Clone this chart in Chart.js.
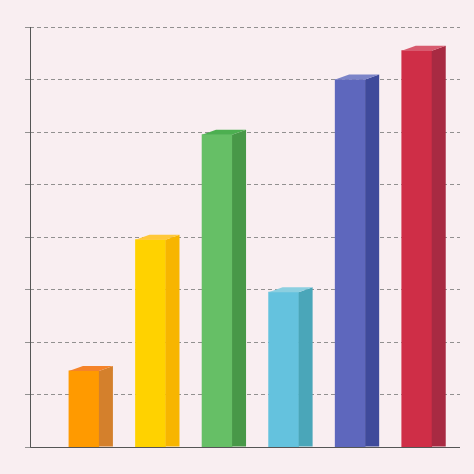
<!DOCTYPE html>
<html><head><meta charset="utf-8">
<script src="https://cdn.jsdelivr.net/npm/chart.js@4"></script>
<style>html,body{margin:0;background:#f9eef1}#wrap{width:474px;height:474px}</style>
</head><body><div id="wrap"><canvas id="c"></canvas></div>
<script>
const positions = [0, 1, 2, 3, 4, 5];
const values = [1.45, 3.95, 5.95, 2.95, 7.0, 7.55];
const frontColors = ["#ff9a00", "#ffd200", "#66bf66", "#64c2de", "#5e67bd", "#cf2e47"];
const sideColors = ["#d4802c", "#f7b500", "#489848", "#4aa6b9", "#3f4a9b", "#a82a42"];
const topColors = ["#f5832a", "#ffc83a", "#4caf50", "#8ccfe0", "#7c84c8", "#d85a6e"];

const depth = {
  id: "depth",
  afterDatasetsDraw(chart) {
    const ctx = chart.ctx;
    const dx = 14, dy = 5;
    chart.getDatasetMeta(0).data.forEach((bar, i) => {
      const w = bar.width, l = bar.x - w / 2, r = bar.x + w / 2, t = bar.y, b = bar.base;
      ctx.fillStyle = sideColors[i];
      ctx.beginPath();
      ctx.moveTo(r, t); ctx.lineTo(r + dx, t - dy); ctx.lineTo(r + dx, b); ctx.lineTo(r, b);
      ctx.closePath(); ctx.fill();
      ctx.fillStyle = topColors[i];
      ctx.beginPath();
      ctx.moveTo(l, t); ctx.lineTo(l + dx, t - dy); ctx.lineTo(r + dx, t - dy); ctx.lineTo(r, t);
      ctx.closePath(); ctx.fill();
    });
  }
};

// solid axis lines drawn over the dashed grid
const axes = {
  id: "axes",
  afterDraw(chart) {
    const { ctx, chartArea: a } = chart;
    ctx.strokeStyle = "#555"; ctx.lineWidth = 1;
    ctx.beginPath();
    ctx.moveTo(a.left + 0.5, a.top); ctx.lineTo(a.left + 0.5, a.bottom + 0.5);
    ctx.lineTo(a.right, a.bottom + 0.5);
    ctx.stroke();
  }
};

new Chart(document.getElementById("c"), {
  type: "bar",
  data: {
    datasets: [{
      data: positions.map((p, i) => ({ x: p, y: values[i] })),
      backgroundColor: frontColors,
      barThickness: 30
    }]
  },
  options: {
    responsive: true,
    maintainAspectRatio: false,
    animation: false,
    plugins: { legend: { display: false }, tooltip: { enabled: false } },
    layout: { padding: { left: 25, right: 14, top: 27, bottom: 27 } },
    scales: {
      x: { type: "linear", offset: false, min: -0.81, max: 5.65, display: false },
      y: {
        min: 0, max: 8,
        ticks: { display: false, stepSize: 1 },
        border: { display: false, dash: [4, 3] },
        grid: { color: "#777", lineWidth: 0.8, tickLength: 5, drawTicks: true, tickBorderDash: [] },
        afterFit(s) { s.width = 5; }
      }
    }
  },
  plugins: [depth, axes]
});
</script>
</body></html>
